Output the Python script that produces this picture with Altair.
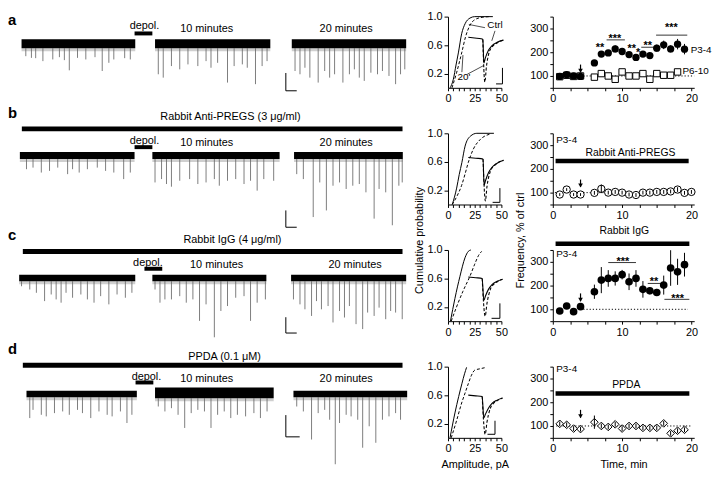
import altair as alt
import pandas as pd

FONT = "Liberation Sans"

# ---------------- layout ----------------
ROW_H = 118      # height of one figure row (trace panel)
PANEL_H = 72     # plot height of the cumulative / frequency panels
TRACE_W = 393
CUM_W = 54
FREQ_W = 143
COL_GAP = 52

# =============== TRACE DATA (sweep time, a.u. ; current deflection, a.u.) ===============
# three sweeps per row: before depolarisation, 10 min, 20 min
A_SEG_X0 = [13.7, 148.7, 287.0]
A_SEG_X1 = [128.7, 265.3, 402.7]
A_BAND_TOP = [23, 23, 23]
A_BAND_BOT = [32, 32, 32]
A_SPK_X = [
    [18, 23.7, 28, 35.3, 45.3, 52, 57, 62, 70.3, 78.7, 88, 95.3, 102, 107, 118, 123.7],
    [152, 157, 165.3, 173.7, 182, 192, 200.3, 205.3, 212, 222, 228.7, 237, 242, 250.3, 257, 262],
    [290.3, 295.3, 300.3, 305.3, 313.7, 320.3, 325.3, 330.3, 338.7, 345.3, 350.3, 355.3, 360.3,
     367, 373.7, 378.7, 385.3, 392, 397, 401.3],
]
A_SPK_Y = [
    [40, 41.7, 42, 45, 43.3, 41, 44, 54.3, 41.7, 43.3, 41, 55, 46.7, 43.3, 42, 43.3],
    [58.3, 61.7, 50, 53.3, 48.3, 50, 45, 51.7, 46.7, 66.7, 50, 48.3, 51.7, 68.3, 50, 45],
    [55, 58.3, 51.7, 61.7, 66.7, 55, 61.7, 58.3, 66.7, 58.3, 53.3, 61.7, 65, 56.7, 58.3, 55,
     60, 68.3, 58.3, 53.3],
]

B_SEG_X0 = [12, 146, 289.3]
B_SEG_X1 = [128, 274.7, 399.3]
B_BAND_TOP = [19, 19, 19]
B_BAND_BOT = [26, 26, 26]
B_SPK_X = [
    [18.7, 25.3, 33.7, 42, 50.3, 60.3, 65.3, 72, 80.3, 90.3, 98.7, 107, 117, 123.7],
    [148.7, 155.3, 160.3, 165.3, 173.7, 183.7, 192, 200.3, 208.7, 213.7, 222, 230.3, 238.7,
     245.3, 252, 258.7, 268.7],
    [292, 298.7, 308.7, 315.3, 322, 328.7, 335.3, 342, 348.7, 355.3, 362, 370.3, 375.3, 382,
     388.7, 395.3, 398.7],
]
B_SPK_Y = [
    [36.3, 34.7, 39.7, 38, 34.7, 41.3, 36.3, 39.7, 36.3, 34.7, 38, 39.7, 46.3, 39.7],
    [49.7, 46.3, 51.3, 54, 48, 46.3, 51.3, 49.7, 46.3, 53, 48, 46.3, 51.3, 48, 58, 46.3, 48],
    [41.3, 46.3, 84.7, 49.7, 78, 53, 49.7, 56.3, 53, 51.3, 59.7, 86.3, 56.3, 59.7, 93, 53, 49.7],
]

C_SEG_X0 = [11.3, 146, 286.3]
C_SEG_X1 = [128.7, 261.3, 402.7]
C_BAND_TOP = [25, 25, 25]
C_BAND_BOT = [31.7, 31.7, 31.7]
C_SPK_X = [
    [13.7, 22, 28.7, 37, 43.7, 48.7, 53.7, 58.7, 65.3, 73.7, 80.3, 87, 93.7, 102, 110.3, 118.7, 125.3],
    [148.7, 153.7, 158.7, 165.3, 173.7, 180.3, 187, 193.7, 200.3, 208.7, 215.3, 222, 230.3,
     238.7, 245.3, 252, 260.3],
    [288.7, 295.3, 300.3, 307, 312, 317, 323.7, 328.7, 335.3, 340.3, 345.3, 352, 358.7, 363.7,
     370.3, 375.3, 382, 387, 392, 398.7],
]
C_SPK_Y = [
    [36.7, 40, 43.3, 51.7, 45, 50, 53.3, 43.3, 48.3, 45, 50, 53.3, 46.7, 55, 45, 48.3, 43.3],
    [40, 53.3, 50, 50, 46.7, 53.3, 50, 71.7, 55, 88.3, 61.7, 56.7, 48.3, 46.7, 71.7, 53.3, 50],
    [50, 55, 60, 66.7, 51.7, 60, 56.7, 73.3, 61.7, 68.3, 56.7, 75, 80, 63.3, 66.7, 58.3, 70,
     61.7, 63.3, 70],
]

D_SEG_X0 = [18.7, 148.7, 288.7]
D_SEG_X1 = [130.3, 268.7, 403.7]
D_BAND_TOP = [24.3, 21, 24.3]
D_BAND_BOT = [31, 32, 31]
D_SPK_X = [
    [22, 25.3, 33.7, 38.7, 47, 55.3, 62, 70.3, 75.3, 83.7, 92, 100.3, 105.3, 113.7, 120.3, 125.3],
    [152, 158.7, 165.3, 172, 178.7, 185.3, 192, 198.7, 205.3, 212, 218.7, 225.3, 232, 240.3,
     248.7, 255.3, 262],
    [292, 298.7, 307, 313.7, 320.3, 325.3, 331, 335.3, 342, 347, 353.7, 358.7, 365.3, 372,
     378.7, 385.3, 392, 397],
]
D_SPK_Y = [
    [52, 43.7, 48.7, 50.3, 47, 45.3, 48.7, 43.7, 47, 52, 45.3, 48.7, 50.3, 45.3, 57, 48.7],
    [40.3, 45.3, 42, 48.7, 62, 47, 43.7, 45.3, 62, 48.7, 45.3, 52, 48.7, 50.3, 47, 52, 45.3],
    [40.3, 45.3, 73.7, 47, 43.7, 53.7, 98.7, 57, 48.7, 50.3, 53.7, 82, 60.3, 77, 53.7, 50.3, 47, 53.7],
]

TRACES = [
    dict(x0=A_SEG_X0, x1=A_SEG_X1, top=A_BAND_TOP, bot=A_BAND_BOT, sx=A_SPK_X, sy=A_SPK_Y),
    dict(x0=B_SEG_X0, x1=B_SEG_X1, top=B_BAND_TOP, bot=B_BAND_BOT, sx=B_SPK_X, sy=B_SPK_Y),
    dict(x0=C_SEG_X0, x1=C_SEG_X1, top=C_BAND_TOP, bot=C_BAND_BOT, sx=C_SPK_X, sy=C_SPK_Y),
    dict(x0=D_SEG_X0, x1=D_SEG_X1, top=D_BAND_TOP, bot=D_BAND_BOT, sx=D_SPK_X, sy=D_SPK_Y),
]

# annotation placement of the trace panels
TRACE_ANN = [
    dict(letter="a", letter_y=3, drug=None, depol=(138, 10), depol_bar=(128, 146, 17),
         min_y=13, min10_x=201, min20_x=342, sb=(281, 57, 75, 292)),
    dict(letter="b", letter_y=-20, drug=("Rabbit Anti-PREGS (3 μg/ml)", 225, -16, 14, 399, -4.5),
         depol=(138, 8), depol_bar=(128, 146, 14), min_y=10, min10_x=201, min20_x=342,
         sb=(281, 78, 95, 292)),
    dict(letter="c", letter_y=-15, drug=("Rabbit IgG (4 μg/ml)", 227, -10, 15, 399, 1.5),
         depol=(141.5, 13), depol_bar=(138, 156, 19), min_y=15, min10_x=211, min20_x=351,
         sb=(281, 68, 84, 292)),
    dict(letter="d", letter_y=-18, drug=("PPDA (0.1 μM)", 219, -10, 15, 399, -1.5),
         depol=(140, 10), depol_bar=(129, 147, 16), min_y=13, min10_x=201, min20_x=342,
         sb=(281, 49, 71, 295)),
]

# =============== CUMULATIVE AMPLITUDE DATA (amplitude pA, cumulative probability) ===============
CUM_CTRL_X = [[2, 5, 7.5, 9.7, 12.8, 16, 20.6, 25, 42],
              [4, 8.1, 10.5, 13, 16, 21, 27, 43],
              [2.3, 6.5, 11.2, 15.9, 19, 21.4],
              [1.9, 6.5, 10, 13, 15.5, 17.4]]
CUM_CTRL_Y = [[0, 0.12, 0.32, 0.49, 0.76, 0.9, 0.98, 1.0, 1.0],
              [0, 0.23, 0.42, 0.59, 0.82, 0.96, 1.0, 1.0],
              [0, 0.32, 0.63, 0.89, 0.98, 1.0],
              [0, 0.35, 0.58, 0.76, 0.9, 0.99]]
CUM_20_X = [[3.7, 8, 12.8, 16.5, 20.6, 26.8, 32, 39],
            [4, 8.5, 12.8, 16, 19, 23.8, 30, 39.5],
            [3, 8, 14, 20.5, 25, 28.5, 31.5],
            [3, 8, 12.8, 16, 19, 22, 25, 30, 36]]
CUM_20_Y = [[0, 0.21, 0.49, 0.72, 0.88, 0.97, 0.99, 1.0],
            [0, 0.12, 0.27, 0.43, 0.59, 0.78, 0.91, 0.99],
            [0, 0.2, 0.42, 0.63, 0.8, 0.92, 0.98],
            [0, 0.24, 0.49, 0.63, 0.76, 0.88, 0.95, 0.97, 0.99]]
# averaged EPSC insets (drawn in the panel's own coordinates)
INSET_CTRL_X = [[19, 25, 31, 32.6, 33.6, 35, 38, 41, 46, 52],
                [19, 26, 32.8, 33.8, 35, 38, 41, 46, 52],
                [19, 26, 32, 33.5, 35, 38, 41, 46, 51],
                [19, 26, 32, 33.5, 35, 38, 41, 46, 51]]
INSET_CTRL_Y = [[0.71, 0.70, 0.69, 0.68, 0.35, 0.42, 0.53, 0.59, 0.64, 0.67],
                [0.66, 0.65, 0.64, 0.27, 0.33, 0.45, 0.52, 0.58, 0.62],
                [0.62, 0.61, 0.6, 0.29, 0.35, 0.45, 0.51, 0.56, 0.59],
                [0.6, 0.59, 0.58, 0.28, 0.33, 0.42, 0.48, 0.53, 0.56]]
INSET_20_X = [[32.6, 34.5, 36, 38, 41, 46, 52],
              [32.8, 35, 36.5, 39.5, 43, 47, 52],
              [32, 34.8, 36.5, 39.5, 43, 47, 51],
              [32, 34.8, 36.5, 39.5, 43, 47, 51]]
INSET_20_Y = [[0.68, 0.08, 0.3, 0.47, 0.57, 0.63, 0.67],
              [0.64, 0.05, 0.25, 0.46, 0.54, 0.59, 0.62],
              [0.6, 0.07, 0.25, 0.44, 0.52, 0.56, 0.59],
              [0.58, 0.05, 0.22, 0.41, 0.49, 0.53, 0.56]]
# inset scale bars: (x, y_low, y_high, x_left)
CUM_SCALEBAR = [(51, 0.055, 0.28, 45), (48.6, 0.03, 0.23, 41.8),
                (48.6, 0.04, 0.25, 40.8), (44, 0.05, 0.24, 37)]
CUM_A_LABELS = [("Ctrl", 44, 0.88), ("20'", 15, 0.15)]
CUM_A_POINTERS = [(34.6, 0.845, 19.5, 0.89), (44, 0.8, 41, 0.66),
                  (13, 0.22, 14, 0.46), (18, 0.19, 33, 0.31)]

# =============== FREQUENCY DATA (time min, % of control) ===============
FA_T = [1, 2, 3, 4, 6, 7, 8, 9, 10, 11, 12, 13, 14, 15, 16, 17, 18, 19]
FA_P34 = [98, 105, 100, 98, 155, 192, 197, 214, 203, 190, 178, 192, 186, 217, 231, 214, 234, 213]
FA_P34_ERR = [5, 5, 5, 5, 8, 12, 10, 15, 15, 10, 10, 10, 8, 15, 18, 15, 22, 22]
FA_P610_T = [1, 2, 3, 4, 6, 7, 8, 9, 10, 11, 12, 13, 14, 15, 16, 17, 18]
FA_P610 = [97, 103, 98, 100, 95, 110, 100, 86, 117, 100, 100, 110, 86, 110, 103, 103, 117]
FA_P610_ERR = [6, 6, 6, 6, 8, 8, 8, 10, 10, 8, 8, 8, 10, 8, 8, 8, 8]

FB_T = [1, 2, 3, 4, 6, 7, 8, 9, 10, 11, 12, 13, 14, 15, 16, 17, 18, 19, 20]
FB_VAL = [92, 113, 92, 92, 99, 116, 100, 103, 100, 92, 90, 100, 100, 103, 103, 105, 113, 99, 103]
FB_ERR = [6, 6, 6, 6, 8, 18, 8, 8, 8, 8, 8, 8, 8, 8, 8, 8, 10, 8, 8]

FC_T = [1, 2, 3, 4, 6, 7, 8, 9, 10, 11, 12, 13, 14, 15, 16, 17, 18, 19]
FC_VAL = [93, 114, 90, 111, 174, 223, 230, 230, 246, 216, 230, 184, 178, 171, 202, 274, 258, 288]
FC_ERR = [5, 5, 5, 5, 30, 55, 35, 30, 20, 35, 35, 35, 15, 15, 40, 75, 55, 50]

FD_T = [1, 2, 3, 4, 6, 7, 8, 9, 10, 11, 12, 13, 14, 15, 16, 17, 18, 19]
FD_VAL = [109, 105, 89, 87, 116, 100, 96, 107, 89, 100, 100, 92, 92, 92, 111, 69, 80, 84]
FD_ERR = [10, 10, 10, 10, 28, 10, 10, 10, 10, 10, 10, 10, 10, 10, 10, 10, 10, 10]

FREQ_ANN = [
    dict(dotted=(4.4, 20.4), arrow=(4, 148, 116), drug=None,
         labels=[("P3-4", 19.9, 210), ("P6-10", 18.7, 121)],
         sig=[(7.76, 10.4, 252), (12.76, 14.7, 221), (14.9, 19.4, 272)],
         stars=[(6.8, 231, "**"), (8.95, 268, "***"), (11.4, 228, "**"), (12.3, 207, "*"),
                (13.7, 238, "**"), (17.1, 314, "***")]),
    dict(dotted=(0.3, 20.4), arrow=(4, 155, 124), drug=(0.4, 19.6, 233, "Rabbit Anti-PREGS", 11.2, 266),
         labels=[("P3-4", 0.5, 320)], sig=[], stars=[]),
    dict(dotted=(4.4, 19.5), arrow=(4, 167, 134), drug=(0.4, 19.7, 376, "Rabbit IgG", 10.3, 430),
         labels=[("P3-4", 0.5, 334)],
         sig=[(8.0, 12.0, 297), (13.7, 15.6, 209), (16.1, 19.7, 142)],
         stars=[(10.1, 313, "***"), (14.6, 227, "**"), (18, 157, "***")]),
    dict(dotted=(0.5, 20), arrow=(4, 168, 135), drug=(0.4, 19.7, 237, "PPDA", 10.6, 273),
         labels=[("P3-4", 0.5, 340)], sig=[], stars=[]),
]


# ------------------------------------------------------------------ helpers
def rule_df(rows):
    return pd.DataFrame(rows, columns=["x", "y", "x2", "y2"])


def trace_chart(k):
    T = TRACES[k]
    A = TRACE_ANN[k]
    xs = alt.Scale(domain=[0, TRACE_W], nice=False, zero=False)
    ys = alt.Scale(domain=[0, ROW_H], nice=False, zero=False, reverse=True)

    def X(f):
        return alt.X(f, type="quantitative", scale=xs, axis=None)

    def Y(f):
        return alt.Y(f, type="quantitative", scale=ys, axis=None)

    band = pd.DataFrame({"x0": T["x0"], "x1": T["x1"], "top": T["top"], "bot": T["bot"]})
    band["fr"] = band["bot"] + 3
    spk = []
    for s in range(3):
        for x, y in zip(T["sx"][s], T["sy"][s]):
            spk.append({"x": x, "y1": T["bot"][s], "y2": y})
    spk = pd.DataFrame(spk)

    layers = [
        alt.Chart(band).mark_rect(color="#a8a8a8", opacity=0.55).encode(
            x=X("x0"), x2="x1", y=Y("bot"), y2="fr"),
        alt.Chart(spk).mark_rule(color="#666666", strokeWidth=0.85).encode(
            x=X("x"), y=Y("y1"), y2="y2"),
        alt.Chart(band).mark_rect(color="#000000").encode(
            x=X("x0"), x2="x1", y=Y("top"), y2="bot"),
    ]
    bars = [{"x": A["depol_bar"][0], "x2": A["depol_bar"][1], "y": A["depol_bar"][2], "w": 4}]
    if A["drug"]:
        d = A["drug"]
        bars.append({"x": d[3], "x2": d[4], "y": d[5], "w": 5})
    for b in bars:
        layers.append(alt.Chart(pd.DataFrame([b])).mark_rule(color="black", strokeWidth=b["w"]).encode(
            x=X("x"), x2="x2", y=Y("y")))
    sb = A["sb"]
    sbar = rule_df([(sb[0], sb[1], sb[0], sb[2]), (sb[0], sb[2], sb[3], sb[2])])
    layers.append(alt.Chart(sbar).mark_rule(color="black", strokeWidth=1).encode(
        x=X("x"), y=Y("y"), x2="x2", y2="y2"))

    texts = [{"x": A["depol"][0], "y": A["depol"][1], "t": "depol."},
             {"x": A["min10_x"], "y": A["min_y"], "t": "10 minutes"},
             {"x": A["min20_x"], "y": A["min_y"], "t": "20 minutes"}]
    if A["drug"]:
        texts.append({"x": A["drug"][1], "y": A["drug"][2], "t": A["drug"][0]})
    layers.append(alt.Chart(pd.DataFrame(texts)).mark_text(
        font=FONT, fontSize=11, color="black", baseline="middle", align="center").encode(
        x=X("x"), y=Y("y"), text="t:N"))
    layers.append(alt.Chart(pd.DataFrame([{"x": 0, "y": A["letter_y"], "t": A["letter"]}])).mark_text(
        font=FONT, fontSize=15, fontWeight="bold", color="black", baseline="middle", align="left").encode(
        x=X("x"), y=Y("y"), text="t:N"))
    return alt.layer(*layers).properties(width=TRACE_W, height=ROW_H)


def cum_chart(k):
    xs = alt.Scale(domain=[0, 50], nice=False, zero=False)
    ys = alt.Scale(domain=[0, 1], nice=False, zero=False)
    xkw = dict(values=list(range(0, 51, 5)), labelExpr="datum.value % 25 === 0 ? datum.label : ''",
               labelFlush=False, labelOverlap=False, tickSize=3, titlePadding=5)
    xaxis = alt.Axis(title="Amplitude, pA", **xkw) if k == 3 else alt.Axis(title=None, **xkw)
    ykw = dict(values=[0.2, 0.6, 1.0], format=".1f", tickSize=4, labelOverlap=False)
    if k == 1:
        yaxis = alt.Axis(title="Cumulative probability", titleX=-29, titleY=108, titleAngle=270,
                         titleAlign="center", titleBaseline="middle", **ykw)
    else:
        yaxis = alt.Axis(title=None, **ykw)

    def X(f):
        return alt.X(f, type="quantitative", scale=xs, axis=xaxis)

    def Y(f):
        return alt.Y(f, type="quantitative", scale=ys, axis=yaxis)

    ctrl = pd.DataFrame({"x": CUM_CTRL_X[k], "y": CUM_CTRL_Y[k]})
    d20 = pd.DataFrame({"x": CUM_20_X[k], "y": CUM_20_Y[k]})
    ic = pd.DataFrame({"x": INSET_CTRL_X[k], "y": INSET_CTRL_Y[k]})
    i20 = pd.DataFrame({"x": INSET_20_X[k], "y": INSET_20_Y[k]})
    sb = CUM_SCALEBAR[k]
    sbar = rule_df([(sb[0], sb[1], sb[0], sb[2]), (sb[3], sb[1], sb[0], sb[1])])

    layers = [
        alt.Chart(ctrl).mark_line(color="black", strokeWidth=1, interpolate="monotone").encode(x=X("x"), y=Y("y")),
        alt.Chart(d20).mark_line(color="black", strokeWidth=1, strokeDash=[3, 2],
                                 interpolate="monotone").encode(x=X("x"), y=Y("y")),
        alt.Chart(ic).mark_line(color="black", strokeWidth=1.1, interpolate="monotone").encode(x=X("x"), y=Y("y")),
        alt.Chart(i20).mark_line(color="black", strokeWidth=1.1, strokeDash=[3, 2],
                                 interpolate="monotone").encode(x=X("x"), y=Y("y")),
        alt.Chart(sbar).mark_rule(color="black", strokeWidth=1).encode(x=X("x"), y=Y("y"), x2="x2", y2="y2"),
    ]
    if k == 0:
        lab = pd.DataFrame(CUM_A_LABELS, columns=["t", "x", "y"])
        ptr = rule_df(CUM_A_POINTERS)
        layers.append(alt.Chart(ptr).mark_rule(color="black", strokeWidth=0.7).encode(
            x=X("x"), y=Y("y"), x2="x2", y2="y2"))
        layers.append(alt.Chart(lab).mark_text(font=FONT, fontSize=10, color="black",
                                               baseline="middle", align="center").encode(
            x=X("x"), y=Y("y"), text="t:N"))
    return alt.layer(*layers).properties(width=CUM_W, height=PANEL_H)


def freq_chart(k):
    A = FREQ_ANN[k]
    xs = alt.Scale(domain=[0, 20.4], nice=False, zero=False)
    ys = alt.Scale(domain=[50, 350], nice=False, zero=False)
    xkw = dict(values=[0, 2.5, 5, 7.5, 10, 12.5, 15, 17.5, 20],
               labelExpr="datum.value % 10 === 0 ? datum.label : ''",
               labelFlush=False, labelOverlap=False, tickSize=3, titlePadding=5)
    xaxis = alt.Axis(title="Time, min", **xkw) if k == 3 else alt.Axis(title=None, **xkw)
    ykw = dict(values=[50, 100, 150, 200, 250, 300, 350],
               labelExpr="datum.value % 100 === 0 ? datum.label : ''",
               labelOverlap=False, tickSize=3)
    if k == 1:
        yaxis = alt.Axis(title="Frequency, % of ctrl", titleX=-33, titleY=108, titleAngle=270,
                         titleAlign="center", titleBaseline="middle", **ykw)
    else:
        yaxis = alt.Axis(title=None, **ykw)

    def X(f):
        return alt.X(f, type="quantitative", scale=xs, axis=xaxis)

    def Y(f):
        return alt.Y(f, type="quantitative", scale=ys, axis=yaxis)

    layers = []
    dot = rule_df([(A["dotted"][0], 100, A["dotted"][1], 100)])
    layers.append(alt.Chart(dot).mark_rule(color="black", strokeWidth=1, strokeDash=[1.2, 2]).encode(
        x=X("x"), y=Y("y"), x2="x2"))
    if A["drug"]:
        d = A["drug"]
        layers.append(alt.Chart(rule_df([(d[0], d[2], d[1], d[2])])).mark_rule(
            color="black", strokeWidth=4.5).encode(x=X("x"), y=Y("y"), x2="x2"))
        layers.append(alt.Chart(pd.DataFrame([{"x": d[4], "y": d[5], "t": d[3]}])).mark_text(
            font=FONT, fontSize=10.5, color="black", baseline="middle", align="center").encode(
            x=X("x"), y=Y("y"), text="t:N"))
    if A["sig"]:
        sig = rule_df([(a, c, b, c) for a, b, c in A["sig"]])
        layers.append(alt.Chart(sig).mark_rule(color="black", strokeWidth=0.8).encode(
            x=X("x"), y=Y("y"), x2="x2"))
        st = pd.DataFrame(A["stars"], columns=["x", "y", "t"])
        layers.append(alt.Chart(st).mark_text(font=FONT, fontSize=11, fontWeight="bold", color="black",
                                              baseline="middle", align="center", dy=3).encode(
            x=X("x"), y=Y("y"), text="t:N"))

    def series(t, v, e, shape, filled, err_on_top=False, size=50):
        df = pd.DataFrame({"t": t, "v": v, "e": e})
        df["lo"] = df["v"] - df["e"]
        df["hi"] = df["v"] + df["e"]
        err = alt.Chart(df).mark_rule(color="black", strokeWidth=1).encode(x=X("t"), y=Y("lo"), y2="hi")
        if filled:
            pts = alt.Chart(df).mark_point(shape=shape, filled=True, color="black", opacity=1,
                                           size=size).encode(x=X("t"), y=Y("v"))
        else:
            pts = alt.Chart(df).mark_point(shape=shape, filled=True, fill="white", stroke="black",
                                           strokeWidth=1, opacity=1, size=size).encode(x=X("t"), y=Y("v"))
        return [pts, err] if err_on_top else [err, pts]

    if k == 0:
        layers += series(FA_P610_T, FA_P610, FA_P610_ERR, "square", False, size=42)
        layers += series(FA_T, FA_P34, FA_P34_ERR, "circle", True, size=55)
    elif k == 1:
        layers += series(FB_T, FB_VAL, FB_ERR, "circle", False, err_on_top=True, size=55)
    elif k == 2:
        layers += series(FC_T, FC_VAL, FC_ERR, "circle", True, size=60)
    else:
        layers += series(FD_T, FD_VAL, FD_ERR, "diamond", False, err_on_top=True, size=60)

    ar = A["arrow"]
    layers.append(alt.Chart(rule_df([(ar[0], ar[1], ar[0], ar[2])])).mark_rule(
        color="black", strokeWidth=1.2).encode(x=X("x"), y=Y("y"), y2="y2"))
    layers.append(alt.Chart(pd.DataFrame([{"x": ar[0], "y": ar[2] + 6}])).mark_point(
        shape="triangle-down", filled=True, color="black", opacity=1, size=22).encode(x=X("x"), y=Y("y")))
    lab = pd.DataFrame(A["labels"], columns=["t", "x", "y"])
    layers.append(alt.Chart(lab).mark_text(font=FONT, fontSize=10, color="black",
                                           baseline="middle", align="left").encode(
        x=X("x"), y=Y("y"), text="t:N"))
    return alt.layer(*layers).properties(width=FREQ_W, height=PANEL_H)


charts = []
for k in range(4):
    charts += [trace_chart(k), cum_chart(k), freq_chart(k)]

chart = alt.concat(*charts, columns=3, spacing={"row": 0, "column": COL_GAP}, bounds="flush").properties(
    padding={"left": 0, "top": 0, "right": 0, "bottom": 2}
).configure_view(stroke=None).configure_axis(
    domainColor="black", tickColor="black", labelColor="black", titleColor="black",
    labelFont=FONT, titleFont=FONT, labelFontSize=11, titleFontSize=11,
    titleFontWeight="normal", labelPadding=2, grid=False, domainWidth=1, tickWidth=1,
)

chart.save("out.html", embed_options={"renderer": "svg", "actions": False})
